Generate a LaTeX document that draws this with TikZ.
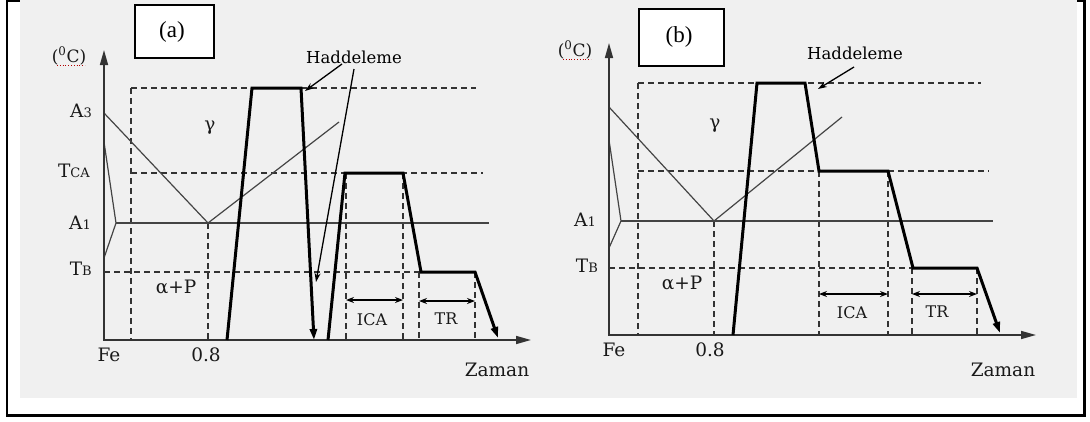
\documentclass[tikz,border=0pt]{standalone}
\usepackage{fontspec}
\setmainfont{Liberation Serif}
\newfontfamily\lblfont{DejaVu Serif}
\usetikzlibrary{arrows.meta}
\definecolor{bggrey}{HTML}{F0F0F0}
\definecolor{ln}{HTML}{333333}
\definecolor{thinln}{HTML}{444444}
\begin{document}
\begin{tikzpicture}[x=1pt,y=-1pt,
  thinline/.style={line width=1.2pt, draw=thinln},
  dashline/.style={line width=1.3pt, draw=ln, dash pattern=on 6pt off 4pt},
  prof/.style={line width=3pt, draw=black, line join=miter},
  proftip/.style={-{Triangle[length=11pt,width=7pt]}},
  axisline/.style={line width=1.6pt, draw=ln, {Triangle[length=15pt,width=8pt]}-{Triangle[length=15pt,width=8pt]}},
  dimarrow/.style={line width=1.3pt, draw=black, {Stealth[length=8pt,width=6pt]}-{Stealth[length=8pt,width=6pt]}},
  hadarrow/.style={line width=1.3pt, draw=black, -{Stealth[length=9pt,width=6pt]}},
  lbl/.style={font=\lblfont\fontsize{18.5}{18.5}\selectfont, text=black!90, inner sep=0pt},
  sublbl/.style={font=\lblfont\fontsize{16}{16}\selectfont, text=black!90, inner sep=0pt},
  hadlbl/.style={font=\lblfont\fontsize{16.5}{16.5}\selectfont, text=black, inner sep=0pt},
  panelbox/.style={draw=black, line width=1.8pt, fill=white},
  panellbl/.style={font=\fontsize{23}{23}\selectfont, inner sep=0pt},
]
\useasboundingbox (0,0) rectangle (1090,421);
% outer frame and background
\draw[line width=2.2pt] (7,1.2) rectangle (1084.5,415.5);
\fill[bggrey] (20,0) rectangle (1077,398);

\newcommand{\subs}[1]{{\fontsize{13}{13}\selectfont #1}}

% ================= Panel (a) =================
\draw[dashline] (131,88) -- (476,88);
\draw[dashline] (131,88) -- (131,340);
\draw[dashline] (131,173) -- (483,173);
\draw[dashline] (104,272) -- (421,272);
\draw[dashline] (208,223) -- (208,340);
\draw[dashline] (346,173) -- (346,340);
\draw[dashline] (403,173) -- (403,340);
\draw[dashline] (419,272) -- (419,340);
\draw[dashline] (475,272) -- (475,340);
\draw[thinline] (116,223) -- (489,223);
\draw[thinline] (104,113) -- (208,223) -- (339,122);
\draw[thinline] (104,142) -- (116,223) -- (104,258);
\draw[axisline] (104,50) -- (104,340) -- (531,340);

\coordinate (a1) at (227,340);
\coordinate (a2) at (252,88);
\coordinate (a3) at (301,88);
\coordinate (a4) at (314,340);
\draw[prof,proftip] (a1) -- (a2) -- (a3) -- (a4);
\coordinate (a5) at (328,340);
\coordinate (a6) at (345,173);
\coordinate (a7) at (403,173);
\coordinate (a8) at (421,272);
\coordinate (a9) at (475,272);
\coordinate (a10) at (498,338);
\draw[prof,proftip] (a5) -- (a6) -- (a7) -- (a8) -- (a9) -- (a10);

\coordinate (aica1) at (346,300); \coordinate (aica2) at (403,300);
\draw[dimarrow] (aica1) -- (aica2);
\coordinate (atr1) at (419,301); \coordinate (atr2) at (475,301);
\draw[dimarrow] (atr1) -- (atr2);

\node[panelbox, minimum width=79pt, minimum height=53pt] (boxa) at (174.5,31.5) {};
\node[panellbl] (labela) at (172,32) {(a)};

\node[lbl, font=\lblfont\fontsize{17}{17}\selectfont] (degca) at (69,56) {(\textsuperscript{0}C)};
\draw[red!70!black, line width=0.8pt, dotted] (57,65) -- (85,65);
\node[lbl, anchor=east] (a3lbl) at (92,111) {A\subs{3}};
\node[lbl, anchor=east] (tcalbl) at (90,171) {T\subs{CA}};
\node[lbl, anchor=east] (a1lbl) at (91,223) {A\subs{1}};
\node[lbl, anchor=east] (tblbl) at (92,269) {T\subs{B}};
\node[lbl] (fea) at (109,355) {Fe};
\node[lbl] (p8a) at (206,355) {0.8};
\node[lbl] (zamana) at (497,370) {Zaman};
\node[lbl] (gammaa) at (210,128) {γ};
\node[lbl] (alphaa) at (176,287) {α+P};
\node[sublbl] (icaa) at (372,320) {ICA};
\node[sublbl] (tra) at (446,319) {TR};
\node[hadlbl] (hada) at (354,57) {Haddeleme};
\coordinate (hadaS1) at (342,64);
\coordinate (hadaS2) at (354,69);
\coordinate (hadaE1) at (305,91);
\coordinate (hadaE2) at (316,282);
\draw[hadarrow] (hadaS1) -- (hadaE1);
\draw[hadarrow] (hadaS2) -- (hadaE2);

% ================= Panel (b) =================
\draw[dashline] (638,83) -- (981,83);
\draw[dashline] (638,83) -- (638,335);
\draw[dashline] (638,171) -- (989,171);
\draw[dashline] (609,268) -- (913,268);
\draw[dashline] (714,221) -- (714,335);
\draw[dashline] (819,171) -- (819,335);
\draw[dashline] (888,171) -- (888,335);
\draw[dashline] (912,268) -- (912,335);
\draw[dashline] (977,268) -- (977,335);
\draw[thinline] (621,221) -- (993,221);
\draw[thinline] (609,107) -- (714,221) -- (842,117);
\draw[thinline] (609,140) -- (621,221) -- (609,248);
\draw[axisline] (609,43) -- (609,335) -- (1036,335);

\coordinate (b1) at (733,335);
\coordinate (b2) at (757,83);
\coordinate (b3) at (805,83);
\coordinate (b4) at (819,171);
\coordinate (b5) at (888,171);
\coordinate (b6) at (913,268);
\coordinate (b7) at (977,268);
\coordinate (b8) at (1000,333);
\draw[prof,proftip] (b1) -- (b2) -- (b3) -- (b4) -- (b5) -- (b6) -- (b7) -- (b8);

\coordinate (bica1) at (819,294); \coordinate (bica2) at (888,294);
\draw[dimarrow] (bica1) -- (bica2);
\coordinate (btr1) at (912,294); \coordinate (btr2) at (977,294);
\draw[dimarrow] (btr1) -- (btr2);

\node[panelbox, minimum width=85pt, minimum height=57pt] (boxb) at (681.5,37.5) {};
\node[panellbl] (labelb) at (679,37) {(b)};

\node[lbl, font=\lblfont\fontsize{17}{17}\selectfont] (degcb) at (575,50) {(\textsuperscript{0}C)};
\draw[red!70!black, line width=0.8pt, dotted] (563,59) -- (591,59);
\node[lbl, anchor=east] (a1lblb) at (596,220) {A\subs{1}};
\node[lbl, anchor=east] (tblblb) at (598,266) {T\subs{B}};
\node[lbl] (feb) at (614,350) {Fe};
\node[lbl] (p8b) at (710,350) {0.8};
\node[lbl] (zamanb) at (1003,370) {Zaman};
\node[lbl] (gammab) at (715,126) {γ};
\node[lbl] (alphab) at (682,283) {α+P};
\node[sublbl] (icab) at (852,313) {ICA};
\node[sublbl] (trb) at (937,312) {TR};
\node[hadlbl] (hadb) at (855,53) {Haddeleme};
\coordinate (hadbS) at (854,67);
\coordinate (hadbE) at (818,89);
\draw[hadarrow] (hadbS) -- (hadbE);
\end{tikzpicture}
\end{document}
